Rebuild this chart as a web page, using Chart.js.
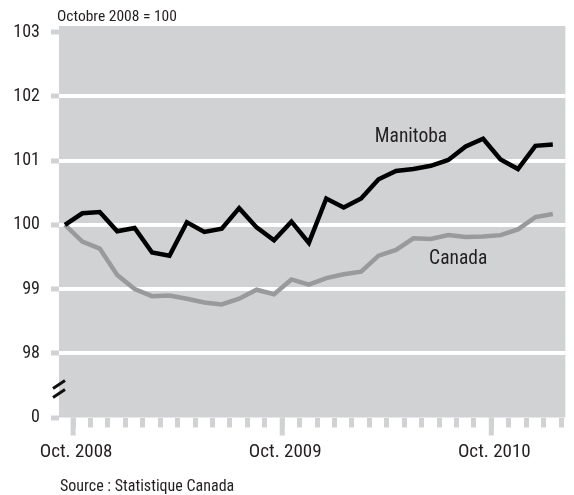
<!DOCTYPE html>
<html>
<head>
<meta charset="utf-8">
<script src="https://cdn.jsdelivr.net/npm/chart.js@4"></script>
<style>
html,body{margin:0;padding:0;background:#fff;}
#wrap{position:relative;width:574px;height:495px;}
</style>
</head>
<body>
<div id="wrap"><canvas id="c" width="574" height="495"></canvas></div>
<script>
// ---- data ----
const months = ["Oct. 2008","Nov. 2008","Dec. 2008","Jan. 2009","Feb. 2009","Mar. 2009","Apr. 2009","May 2009","Jun. 2009","Jul. 2009","Aug. 2009","Sep. 2009","Oct. 2009","Nov. 2009","Dec. 2009","Jan. 2010","Feb. 2010","Mar. 2010","Apr. 2010","May 2010","Jun. 2010","Jul. 2010","Aug. 2010","Sep. 2010","Oct. 2010","Nov. 2010","Dec. 2010","Jan. 2011","Feb. 2011"];
const manitoba = [100.00,100.18,100.20,99.90,99.95,99.57,99.52,100.04,99.89,99.94,100.26,99.96,99.76,100.05,99.72,100.41,100.27,100.41,100.71,100.84,100.87,100.92,101.01,101.22,101.34,101.02,100.87,101.23,101.25];
const canada = [100.00,99.74,99.63,99.22,99.00,98.89,98.90,98.85,98.79,98.76,98.85,98.99,98.92,99.15,99.07,99.17,99.23,99.27,99.52,99.61,99.79,99.78,99.84,99.81,99.82,99.84,99.93,100.12,100.17];
const xTickLabels = ["Oct. 2008","Oct. 2009","Oct. 2010"];
const yTickValues = [97,98,99,100,101,102,103];
const yTickLabels = ["0","98","99","100","101","102","103"];
const seriesNames = ["Manitoba","Canada"];
const titleText = "Octobre 2008 = 100";
const sourceText = "Source : Statistique Canada";

// ---- style ----
const FAMILY = 'Roboto, "DejaVu Sans Condensed", sans-serif';
const STRETCH = 'condensed';
const TEXT = '#231f20';
const PLOT_BG = '#d1d2d4';
const TICK_OFFSET = 0.47;
const labelPos = [{x:19.86,y:101.36},{x:22.57,y:99.47}];
const f = size => STRETCH + ' ' + size + 'px ' + FAMILY;

const pts = arr => arr.map((v,i)=>({x:i,y:v}));

const deco = {
  id:'deco',
  beforeDraw(chart){
    const {ctx, chartArea:a} = chart;
    ctx.save();
    ctx.fillStyle = PLOT_BG;
    ctx.fillRect(a.left, a.top - 3, a.right - a.left, a.bottom - a.top + 3);
    ctx.restore();
  },
  afterDraw(chart){
    const {ctx, chartArea:a, scales} = chart;
    const xs = scales.x, ys = scales.y;
    ctx.save();
    ctx.fillStyle = PLOT_BG;
    months.forEach((m,i)=>{
      if (m.startsWith('Oct.')) {
        const px = xs.getPixelForValue(i + TICK_OFFSET);
        ctx.fillRect(px - 2.5, a.bottom, 5, 18);
      }
    });
    const yb = ys.getPixelForValue(97.5);
    ctx.strokeStyle = '#111';
    ctx.lineWidth = 3;
    ctx.beginPath();
    ctx.moveTo(53, yb + 3); ctx.lineTo(65, yb - 5);
    ctx.moveTo(53, yb + 12); ctx.lineTo(65, yb + 4);
    ctx.stroke();
    ctx.fillStyle = TEXT;
    ctx.textBaseline = 'middle';
    ctx.textAlign = 'left';
    ctx.font = f(15.5);
    ctx.fillText(titleText, 57, 17);
    ctx.font = f(16);
    ctx.fillText(sourceText, 60, 487);
    ctx.textAlign = 'center';
    ctx.font = f(19.5);
    seriesNames.forEach((n,k)=>{
      ctx.fillText(n, xs.getPixelForValue(labelPos[k].x), ys.getPixelForValue(labelPos[k].y));
    });
    ctx.restore();
  }
};

new Chart(document.getElementById('c'), {
  type:'line',
  data:{
    datasets:[
      {label:seriesNames[1], data:pts(canada), borderColor:'#999a9c', borderWidth:4.5, pointRadius:0, tension:0, order:2},
      {label:seriesNames[0], data:pts(manitoba), borderColor:'#000', borderWidth:4.5, pointRadius:0, tension:0, order:1}
    ]
  },
  options:{
    responsive:false,
    animation:false,
    layout:{padding:{top:29,left:0,right:0,bottom:0}},
    plugins:{legend:{display:false}, tooltip:{enabled:false}},
    scales:{
      x:{
        type:'linear', min:-0.34, max:28.72,
        afterBuildTicks(axis){ axis.ticks = months.map((m,i)=>({value:i + TICK_OFFSET})); },
        afterFit(axis){ axis.height = 77.5; },
        border:{display:false},
        grid:{drawOnChartArea:false, drawTicks:true, tickLength:10, tickColor:PLOT_BG, tickWidth:5},
        ticks:{
          autoSkip:false, maxRotation:0, padding:13, labelOffset:3,
          color:TEXT, font:{family:FAMILY, size:19, weight:STRETCH},
          callback(v){
            const i = Math.round(v - TICK_OFFSET);
            return (i % 12 === 0) ? xTickLabels[i/12] : '';
          }
        }
      },
      y:{
        min:97, max:103.05,
        afterBuildTicks(axis){ axis.ticks = yTickValues.map(v=>({value:v})); },
        afterFit(axis){ axis.width = 59; },
        border:{display:false},
        grid:{
          color(ctx){ const v = ctx.tick && ctx.tick.value; return (v>97 && v<103) ? '#ffffff' : 'rgba(0,0,0,0)'; },
          lineWidth:4, drawTicks:true, tickLength:8, tickColor:PLOT_BG, tickWidth:5
        },
        ticks:{
          padding:11, color:TEXT, font:{family:FAMILY, size:18, weight:STRETCH},
          callback(v){ const k = yTickValues.indexOf(v); return k>=0 ? yTickLabels[k] : ''; }
        }
      }
    }
  },
  plugins:[deco]
});
</script>
</body>
</html>
